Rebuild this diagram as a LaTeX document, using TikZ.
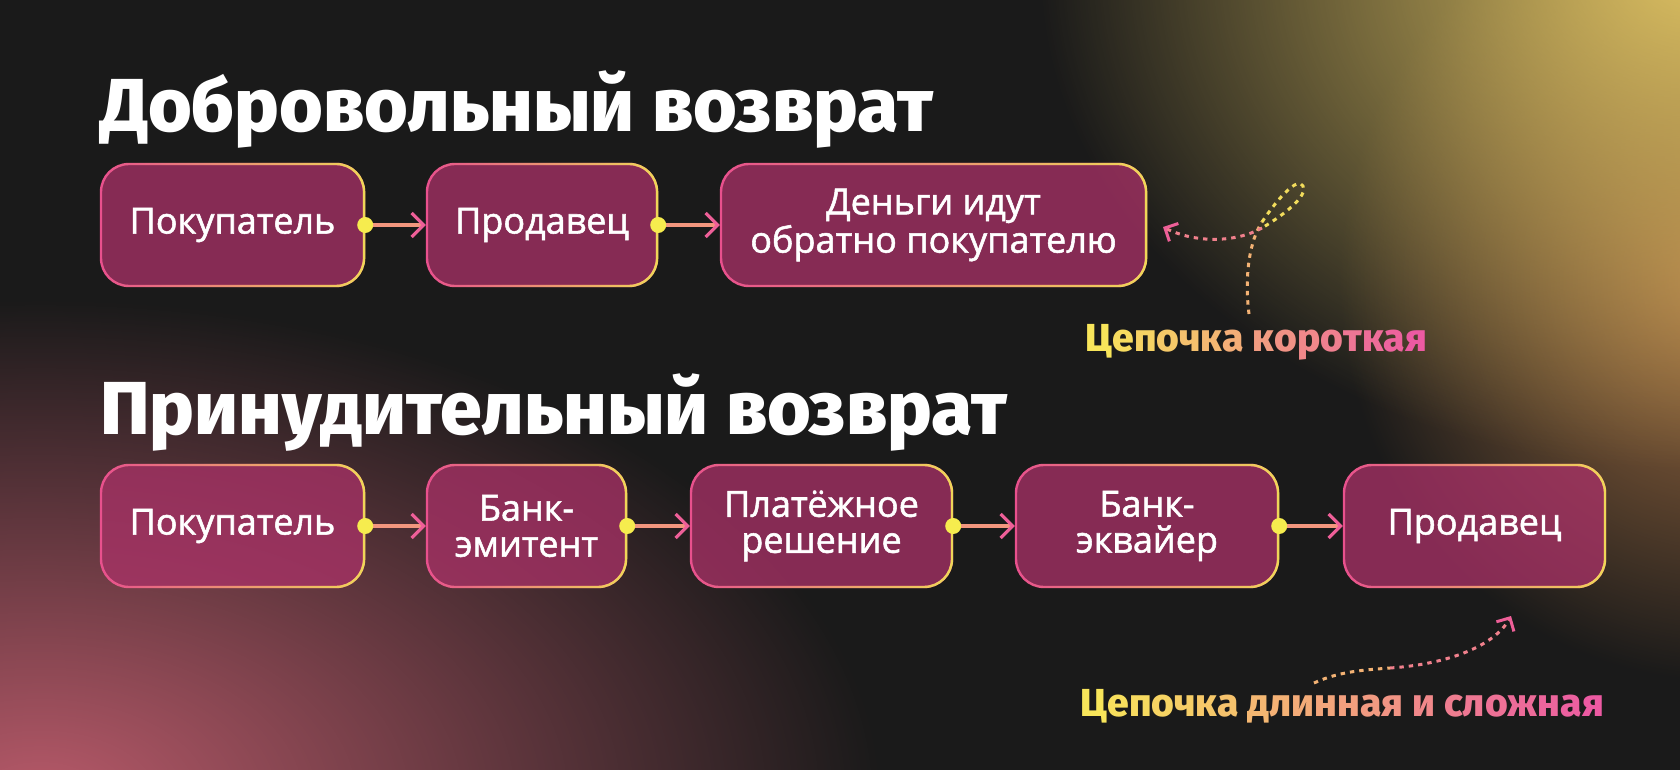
\documentclass[tikz,border=0pt]{standalone}
\usepackage{fontspec}
\setmainfont{Open Sans}
\newfontfamily\headfont{Fira Sans ExtraBold}
\newfontfamily\boxfont{Open Sans}[FakeBold=1.5]
\usepackage{tikz}
\usetikzlibrary{arrows.meta,fadings,positioning}

\definecolor{bgdark}{HTML}{1A1A1A}
\definecolor{boxfill}{HTML}{AB3268}
\definecolor{edgepink}{HTML}{E8508E}
\definecolor{edgeyellow}{HTML}{F0D858}
\definecolor{dotyellow}{HTML}{F6EC4E}
\definecolor{linkpink}{HTML}{EE5F98}
\definecolor{linkmid}{HTML}{F2967E}
\definecolor{labyellow}{HTML}{F8E55A}
\definecolor{labpink}{HTML}{EC5AA2}
\definecolor{hintyellow}{HTML}{F2DC5C}
\definecolor{hintpeach}{HTML}{F3B274}
\definecolor{hintpink}{HTML}{F0808C}
\definecolor{glowyellow}{HTML}{DCC062}
\definecolor{glowbrown}{HTML}{A87244}
\definecolor{glowpink}{HTML}{B85A6A}

\tikzfading[name=glowfade, inner color=transparent!0, outer color=transparent!100]
\tikzfading[name=edgefade, left color=transparent!100, right color=transparent!0]

% letters of a label, coloured from yellow to pink
\newcommand{\gradtext}[2]{%
  \foreach \ch [count=\k] in {#2}{%
    \pgfmathsetmacro{\mixpct}{100-100*(\k-1)/(#1-1)}%
    \textcolor{labyellow!\mixpct!labpink}{\ch}}}

\begin{document}
\begin{tikzpicture}[x=0.5pt, y=-0.5pt,
    chainbox/.style={rectangle, rounded corners=14pt, minimum height=61pt, inner sep=0pt,
      fill=boxfill, fill opacity=0.75, text opacity=1, draw=edgepink, line width=1.2pt,
      text=white, align=center, font=\boxfont\fontsize{18}{18}\selectfont,
      postaction={draw=edgeyellow, line width=1.2pt, path fading=edgefade}},
    link/.style={linkmid, line width=1.6pt, -{Straight Barb[length=6pt, width=12pt, color=linkpink]}},
    joint/.style={fill=dotyellow},
    hint/.style={line width=1.5pt, dash pattern=on 2.2pt off 2.5pt},
    headline/.style={anchor=base west, inner sep=0pt, text=white, font=\headfont\fontsize{37.5}{40}\selectfont},
    tag/.style={anchor=base west, inner sep=0pt, font=\headfont\fontsize{19.5}{22}\selectfont}]
    \useasboundingbox (0,0) rectangle (1680,770);

    % Background
    \fill[bgdark] (0,0) rectangle (1680,770);
    \begin{scope}
        \clip (0,0) rectangle (1680,770);
        \fill[glowbrown, path fading=glowfade] (1720,280) ellipse (190pt and 200pt);
        \fill[glowyellow, path fading=glowfade] (1700,-30) ellipse (330pt and 250pt);
        \fill[glowpink, path fading=glowfade] (40,800) ellipse (420pt and 250pt);
    \end{scope}

    % Titles
    \node[headline] (t1) at (100,132) {Добровольный возврат};
    \node[headline] (t2) at (100,434) {Принудительный возврат};

    % Voluntary chain
    \node[chainbox, minimum width=131.5pt] (p1) at (232.5,225) {Покупатель};
    \node[chainbox, minimum width=115pt] (p2) at (542,225) {Продавец};
    \node[chainbox, minimum width=212.5pt] (p3) at (933.5,225) {Деньги идут\\обратно покупателю};

    \draw[link] (p1.east) -- (p2.west);
    \draw[link] (p2.east) -- (p3.west);
    \fill[joint] (p1.east) circle (4pt);
    \fill[joint] (p2.east) circle (4pt);

    % Forced chain
    \node[chainbox, minimum width=131.5pt] (f1) at (232.5,526) {Покупатель};
    \node[chainbox, minimum width=99.5pt] (f2) at (526.5,526) {Банк-\\эмитент};
    \node[chainbox, minimum width=130.5pt] (f3) at (821.5,526) {Платёжное\\решение};
    \node[chainbox, minimum width=131pt] (f4) at (1147,526) {Банк-\\эквайер};
    \node[chainbox, minimum width=130.5pt] (f5) at (1474.5,526) {Продавец};

    \draw[link] (f1.east) -- (f2.west);
    \draw[link] (f2.east) -- (f3.west);
    \draw[link] (f3.east) -- (f4.west);
    \draw[link] (f4.east) -- (f5.west);
    \fill[joint] (f1.east) circle (4pt);
    \fill[joint] (f2.east) circle (4pt);
    \fill[joint] (f3.east) circle (4pt);
    \fill[joint] (f4.east) circle (4pt);

    % Notes
    \node[tag] (n1) at (1085,351) {\gradtext{16}{Ц,е,п,о,ч,к,а,\ ,к,о,р,о,т,к,а,я}};
    \node[tag] (n2) at (1080,716) {\gradtext{25}{Ц,е,п,о,ч,к,а,\ ,д,л,и,н,н,а,я,\ ,и,\ ,с,л,о,ж,н,а,я}};

    % short chain hint, loops up and points back at the box
    \draw[hint, hintpeach] (1249,314) .. controls (1244,275) and (1250,240) .. (1262,222);
    \draw[hint, hintyellow] (1262,222) .. controls (1278,198) and (1298,176) .. (1303,186)
        .. controls (1308,196) and (1285,214) .. (1262,228);
    \draw[hint, hintpink, -{Straight Barb[length=5pt, width=10pt, color=linkpink]}]
        (1262,228) .. controls (1235,243) and (1195,243) .. (1163,227);

    % long chain hint
    \draw[hint, hintpeach] (1314,683) .. controls (1340,671) and (1365,670) .. (1390,668);
    \draw[hint, hintpink, -{Straight Barb[length=5pt, width=10pt, color=linkpink]}]
        (1390,668) .. controls (1450,664) and (1495,645) .. (1511,616);
\end{tikzpicture}
\end{document}
